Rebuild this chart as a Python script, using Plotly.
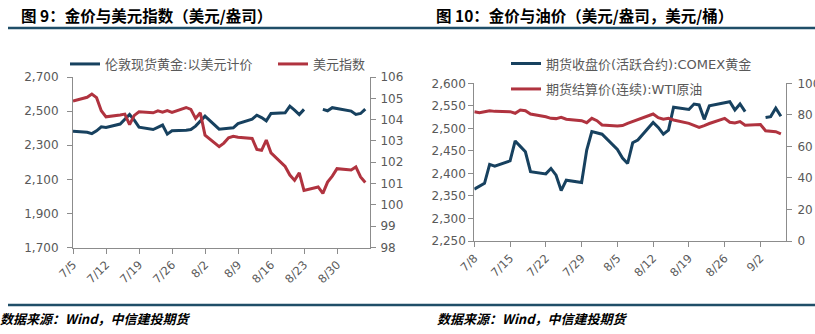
import plotly.graph_objects as go

# ---------------- data ----------------
# Figure 9: London spot gold (USD/oz) and the US dollar index
dates_l = [
    "2024-07-05", "2024-07-08", "2024-07-09", "2024-07-10", "2024-07-11", "2024-07-12",
    "2024-07-15", "2024-07-16", "2024-07-17", "2024-07-18", "2024-07-19",
    "2024-07-22", "2024-07-23", "2024-07-24", "2024-07-25", "2024-07-26",
    "2024-07-29", "2024-07-30", "2024-07-31", "2024-08-01", "2024-08-02",
    "2024-08-05", "2024-08-06", "2024-08-07", "2024-08-08", "2024-08-09",
    "2024-08-12", "2024-08-13", "2024-08-14", "2024-08-15", "2024-08-16",
    "2024-08-19", "2024-08-20", "2024-08-21", "2024-08-22", "2024-08-23",
    "2024-08-26", "2024-08-27", "2024-08-28", "2024-08-29", "2024-08-30",
    "2024-09-02", "2024-09-03", "2024-09-04", "2024-09-05",
]
london_gold = [
    2382, 2376, 2368, 2384, 2408, 2404,
    2424, 2451, 2480, 2447, 2406,
    2392, 2404, 2418, 2365, 2385,
    2388, 2392, 2412, 2442, 2470,
    2394, 2397, 2399, 2402, 2427,
    2453, 2476, 2462, 2443, 2486,
    2490, 2529, 2506, 2480, 2510,
    None, 2510, 2502, 2520, 2516,
    2500, 2480, 2486, 2512,
]
dollar_index = [
    104.87, 105.05, 105.20, 105.03, 104.42, 104.13,
    104.22, 104.26, 103.77, 104.20, 104.37,
    104.32, 104.41, 104.35, 104.42, 104.34,
    104.57, 104.48, 104.06, 104.32, 103.27,
    102.73, 102.90, 103.15, 103.22, 103.17,
    103.12, 102.60, 102.56, 103.04, 102.44,
    101.80, 101.40, 101.15, 101.50, 100.68,
    100.84, 100.54, 101.07, 101.35, 101.70,
    101.64, 101.78, 101.31, 101.05,
]
ticks_l = ["2024-07-05", "2024-07-12", "2024-07-19", "2024-07-26", "2024-08-02",
           "2024-08-09", "2024-08-16", "2024-08-23", "2024-08-30"]
ticktext_l = ["7/5", "7/12", "7/19", "7/26", "8/2", "8/9", "8/16", "8/23", "8/30"]

# Figure 10: COMEX gold (USD/oz) and WTI crude (USD/bbl)
dates_r = [
    "2024-07-08", "2024-07-09", "2024-07-10", "2024-07-11", "2024-07-12",
    "2024-07-15", "2024-07-16", "2024-07-17", "2024-07-18", "2024-07-19",
    "2024-07-22", "2024-07-23", "2024-07-24", "2024-07-25", "2024-07-26",
    "2024-07-29", "2024-07-30", "2024-07-31", "2024-08-01", "2024-08-02",
    "2024-08-05", "2024-08-06", "2024-08-07", "2024-08-08", "2024-08-09",
    "2024-08-12", "2024-08-13", "2024-08-14", "2024-08-15", "2024-08-16",
    "2024-08-19", "2024-08-20", "2024-08-21", "2024-08-22", "2024-08-23",
    "2024-08-26", "2024-08-27", "2024-08-28", "2024-08-29", "2024-08-30",
    "2024-09-02", "2024-09-03", "2024-09-04", "2024-09-05", "2024-09-06",
]
comex_gold = [
    2365, 2372, 2378, 2420, 2416,
    2428, 2472, 2460, 2448, 2404,
    2399, 2411, 2396, 2362, 2385,
    2380, 2452, 2493, 2490, 2487,
    2453, 2434, 2422, 2468, 2474,
    2513, 2502, 2487, 2496, 2547,
    2542, 2554, 2552, 2520, 2550,
    2556, 2559, 2541, 2554, 2537,
    None, 2524, 2526, 2545, 2527,
]
wti_oil = [
    82.0, 81.4, 82.0, 82.6, 82.2,
    82.0, 81.0, 83.1, 82.6, 80.5,
    78.8, 77.8, 77.6, 78.4, 77.2,
    76.3, 75.0, 77.8, 76.3, 73.6,
    72.9, 73.2, 74.6, 75.8, 76.8,
    80.5, 78.2, 77.2, 77.8, 76.7,
    74.6, 73.3, 72.1, 73.2, 74.5,
    77.8, 75.3, 74.8, 75.7, 73.4,
    73.9, 69.9, 69.5, 69.3, 67.9,
]
ticks_r = ["2024-07-08", "2024-07-15", "2024-07-22", "2024-07-29", "2024-08-05",
           "2024-08-12", "2024-08-19", "2024-08-26", "2024-09-02"]
ticktext_r = ["7/8", "7/15", "7/22", "7/29", "8/5", "8/12", "8/19", "8/26", "9/2"]

# ---------------- styling ----------------
W, H = 815, 334
BLUE = "#17415F"
RED = "#B0333F"
AXIS = "#8C8C8C"
TXT = "#595959"
RULE = "#1F4E68"
CJK = "Noto Sans CJK SC"
LAT = "DejaVu Sans, Noto Sans CJK SC"


def fx(px):
    """Horizontal pixel position -> paper fraction."""
    return px / W


def fy(py):
    """Vertical pixel position (from top) -> paper fraction."""
    return 1 - py / H


fig = go.Figure()

fig.add_trace(go.Scatter(x=dates_l, y=london_gold, name="伦敦现货黄金:以美元计价",
                         mode="lines", line=dict(color=BLUE, width=3), showlegend=True,
                         connectgaps=False, xaxis="x", yaxis="y", legend="legend"))
fig.add_trace(go.Scatter(x=dates_l, y=dollar_index, name="美元指数", showlegend=True,
                         mode="lines", line=dict(color=RED, width=3),
                         xaxis="x", yaxis="y2", legend="legend2"))
fig.add_trace(go.Scatter(x=dates_r, y=comex_gold, name="期货收盘价(活跃合约):COMEX黄金",
                         mode="lines", line=dict(color=BLUE, width=3), showlegend=True,
                         connectgaps=False, xaxis="x2", yaxis="y3", legend="legend3"))
fig.add_trace(go.Scatter(x=dates_r, y=wti_oil, name="期货结算价(连续):WTI原油",
                         mode="lines", line=dict(color=RED, width=3), showlegend=True,
                         xaxis="x2", yaxis="y4", legend="legend4"))

axis_common = dict(showgrid=False, zeroline=False, showline=True, linecolor=AXIS,
                   linewidth=1, ticks="outside", ticklen=5, tickcolor=AXIS,
                   tickfont=dict(family=LAT, size=12, color=TXT))
x_common = dict(axis_common, type="date", tickangle=-45,
                tickfont=dict(family=LAT, size=11.5, color=TXT))
legend_common = dict(bgcolor="rgba(0,0,0,0)", borderwidth=0,
                     font=dict(family=LAT, size=13, color=TXT),
                     xanchor="left", yanchor="middle", orientation="h")

fig.update_layout(
    width=W, height=H, showlegend=True,
    margin=dict(l=0, r=0, t=0, b=0, autoexpand=False),
    paper_bgcolor="white", plot_bgcolor="white",
    font=dict(family=CJK, color=TXT),
    xaxis=dict(x_common, domain=[fx(73), fx(370)], anchor="y",
               range=["2024-07-05", "2024-09-06"],
               tickvals=ticks_l, ticktext=ticktext_l),
    yaxis=dict(axis_common, domain=[fy(247.5), fy(77)], anchor="x",
               range=[1700, 2700], tickvals=[1700, 1900, 2100, 2300, 2500, 2700],
               tickformat=",", ticklabelstandoff=6),
    yaxis2=dict(axis_common, overlaying="y", side="right", anchor="x",
                range=[98, 106], dtick=1, ticklabelstandoff=2),
    xaxis2=dict(x_common, domain=[fx(474.3), fx(786)], anchor="y3",
                range=["2024-07-08", "2024-09-07"],
                tickvals=ticks_r, ticktext=ticktext_r),
    yaxis3=dict(axis_common, domain=[fy(241), fy(83.3)], anchor="x2",
                range=[2250, 2600], dtick=50, tickformat=","),
    yaxis4=dict(axis_common, overlaying="y3", side="right", anchor="x2",
                range=[0, 100], dtick=20, ticklabelstandoff=3),
    legend=dict(legend_common, x=fx(65), y=fy(64)),
    legend2=dict(legend_common, x=fx(273), y=fy(64)),
    legend3=dict(legend_common, x=fx(506), y=fy(63.5)),
    legend4=dict(legend_common, x=fx(506), y=fy(89)),
)

# Figure titles
titles = [
    (19, "图 9：金价与美元指数（美元/盎司）"),
    (434, "图 10：金价与油价（美元/盎司，美元/桶）"),
]
for x0, txt in titles:
    fig.add_annotation(xref="paper", yref="paper", x=fx(x0), y=fy(15),
                       xanchor="left", yanchor="middle", showarrow=False,
                       text=txt, font=dict(family=CJK, size=15.5, color="#000000",
                                           weight="bold"))

# Source notes
for x0 in (-2, 435):
    fig.add_annotation(xref="paper", yref="paper", x=fx(x0), y=fy(318.5),
                       xanchor="left", yanchor="middle", showarrow=False,
                       text="数据来源：Wind，中信建投期货",
                       font=dict(family=CJK, size=13, color="#000000",
                                 style="italic", weight="bold"))

# Rules under the titles and above the source notes
for yy in (28, 305):
    fig.add_shape(type="line", xref="paper", yref="paper",
                  x0=fx(8), x1=1, y0=fy(yy), y1=fy(yy),
                  line=dict(color=RULE, width=2.5))

fig.write_html("out.html")
